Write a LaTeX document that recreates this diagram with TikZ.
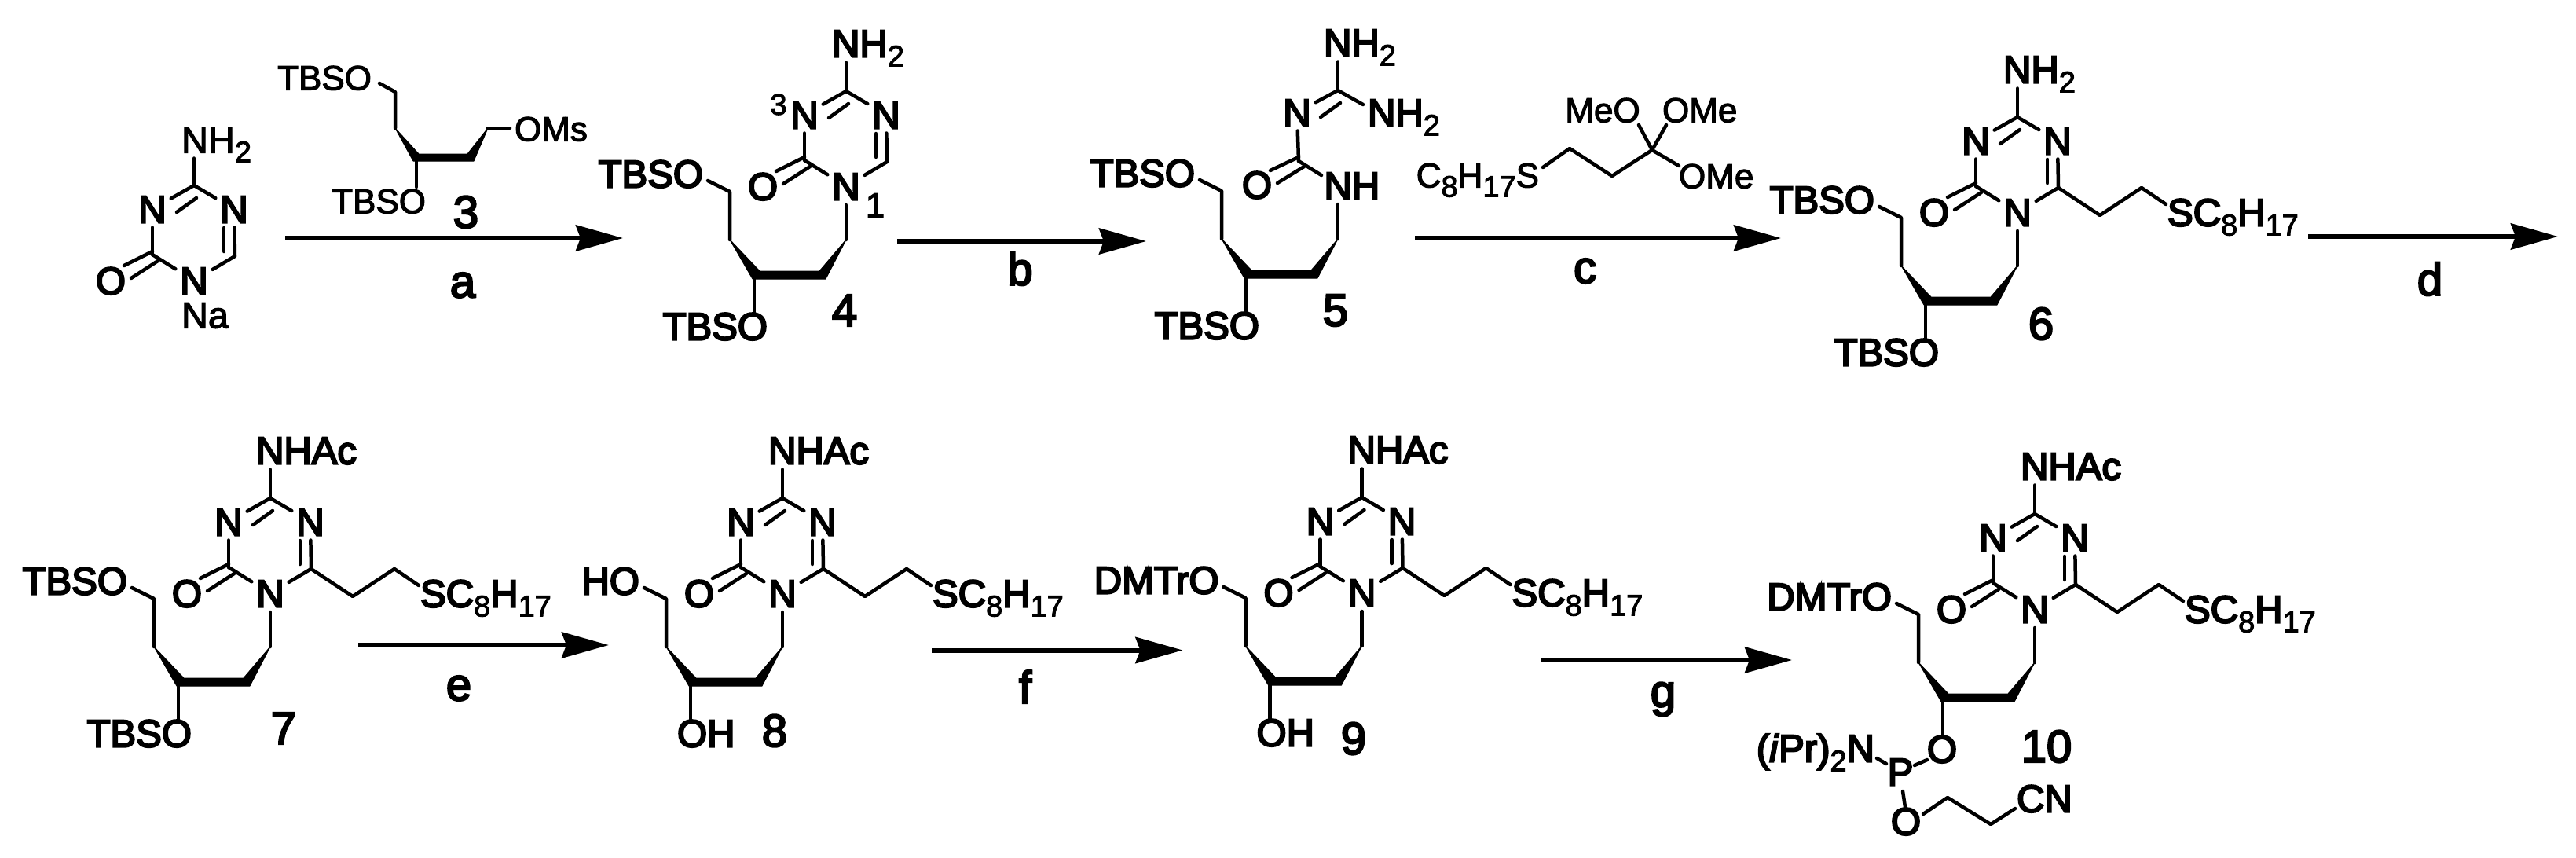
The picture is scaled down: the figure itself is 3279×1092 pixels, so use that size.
\documentclass[tikz,border=0pt]{standalone}
\usepackage{fontspec}
\usetikzlibrary{arrows.meta,calc}
\setmainfont{Liberation Sans}
\newfontfamily\bfam[FakeBold=4.5]{Liberation Sans}
\newfontfamily\rfam[FakeBold=2.5]{Liberation Sans}
\newfontfamily\tfam[FakeBold=4]{Liberation Sans}
\newcommand{\lowidx}[1]{\raisebox{-12pt}{\rfam\fontsize{38}{38}\selectfont #1}}
\tikzset{
  x=1pt,y=-1pt,
  bond/.style={line width=4.5pt,line cap=round,line join=round},
  wedgefill/.style={fill=black,draw=black,line width=1pt,line join=round},
  atom/.style={font=\bfam\fontsize{49}{49}\selectfont,inner sep=6pt,outer sep=0pt,text height=35pt,text depth=0pt},
  chemtext/.style={font=\bfam\fontsize{49}{49}\selectfont,inner sep=0pt,outer sep=0pt,text height=35pt,text depth=0pt},
  thintext/.style={font=\rfam\fontsize{44}{44}\selectfont,inner sep=0pt,outer sep=0pt,text height=33pt,text depth=0pt},
  tag/.style={font=\tfam\fontsize{58}{58}\selectfont,inner sep=0pt,outer sep=0pt},
  rxn/.style={line width=6pt,-{Stealth[length=60pt,width=33pt,inset=6pt]}},
}
% upper half of the ring: C4, N3, C2, O
\newcommand{\ringhead}[1]{%
  \coordinate (#1Ct) at (0,-121);
  \coordinate (#1Cl) at (-53,-33);
  \node[atom] (#1Nl) at (-53,-91) {N};
  \node[chemtext] (#1O) at (-106,0) {O};
  \draw[bond] (#1Ct) -- (#1Nl);
  \coordinate (#1d1) at (3,-105); \coordinate (#1d2) at (-22,-87);
  \draw[bond] (#1d1) -- (#1d2);
  \draw[bond] (#1Nl) -- (#1Cl);
  \coordinate (#1o1) at (-53,-37); \coordinate (#1o2) at (-89,-19);
  \coordinate (#1o3) at (-46,-25); \coordinate (#1o4) at (-80,-3);
  \draw[bond] (#1o1) -- (#1o2);
  \draw[bond] (#1o3) -- (#1o4);
}
% lower right of the ring: N1, C6, N5
\newcommand{\ringtail}[1]{%
  \coordinate (#1Cr) at (52,-31);
  \node[atom] (#1Nb) at (0,0) {N};
  \node[atom] (#1Nr) at (51,-91) {N};
  \draw[bond] (#1Ct) -- (#1Nr);
  \draw[bond] (#1Cl) -- (#1Nb);
  \draw[bond] (#1Nb) -- (#1Cr);
  \draw[bond] (#1Cr) -- (#1Nr);
  \coordinate (#1r1) at (38,-37); \coordinate (#1r2) at (38,-67);
  \draw[bond] (#1r1) -- (#1r2);
}
\newcommand{\topsub}[2]{%
  \node[chemtext,anchor=west] (#1Top) at (-18,-182) {#2};
  \draw[bond] (#1Ct) -- ([yshift=-7pt]#1Top.south -| #1Ct);
}
\newcommand{\sidechain}[1]{%
  \coordinate (#1s1) at (105,4); \coordinate (#1s2) at (158,-31); \coordinate (#1s3) at (189,-10);
  \node[chemtext,anchor=west] (#1S) at (191,0) {SC\lowidx{8}H\lowidx{17}};
  \draw[bond] (#1Cr) -- (#1s1) -- (#1s2) -- (#1s3);
}
% #2 top-left label, #3 anchor, #4 x of bottom label, #5 bottom label
\newcommand{\lowchain}[5]{%
  \coordinate (#1l0) at (0,24); \coordinate (#1l1) at (0,68);
  \coordinate (#1l2) at (-34,108); \coordinate (#1l3) at (-26,118);
  \coordinate (#1l4) at (-119,118); \coordinate (#1l5) at (-110,108);
  \coordinate (#1l6) at (-148,68); \coordinate (#1l7) at (-148,7); \coordinate (#1l8) at (-176,-7);
  \coordinate (#1st) at (-117,116);
  \fill[wedgefill] (#1l6) -- (#1l5) -- (#1l2) -- (#1l1) -- (#1l3) -- (#1l4) -- cycle;
  \draw[bond] (#1l1) -- (#1l0);
  \draw[bond] (#1l6) -- (#1l7) -- (#1l8);
  \node[chemtext,anchor=east] (#1TL) at (-182,-16) {#2};
  \node[chemtext,#3] (#1BL) at (#4,178) {#5};
  \draw[bond] (#1st) -- (#1st |- #1BL.north);
}
\begin{document}
\begin{tikzpicture}
\useasboundingbox (0,0) rectangle (3279,1092);
% starting material
\begin{scope}[shift={(247,357)}]
  \ringhead{A}
  \ringtail{A}
  \node[thintext,text height=35pt,font=\rfam\fontsize{47}{47}\selectfont,anchor=west] (ATop) at (-16,-180) {NH\lowidx{2}};
  \draw[bond] (ACt) -- ([yshift=-7pt]ATop.south -| ACt);
  \node[thintext,text height=35pt,font=\rfam\fontsize{47}{47}\selectfont,anchor=west] (ANa) at (-16,43) {Na};
\end{scope}
% reagent 3
\node[thintext,anchor=east] (R3a) at (473,98) {TBSO};
\node[thintext,anchor=east] (R3b) at (542,255) {TBSO};
\node[thintext,anchor=west] (R3c) at (655,163) {OMs};
\coordinate (R1) at (483,106); \coordinate (R2) at (503,117); \coordinate (R3) at (503,163);
\coordinate (R4) at (533,196); \coordinate (R5) at (595,196); \coordinate (R6) at (621,163);
\coordinate (R7) at (603,205); \coordinate (R8) at (526,205); \coordinate (R9) at (649,163);
\coordinate (R10) at (530,203); \coordinate (R11) at (530,238);
\fill[wedgefill] (R3) -- (R4) -- (R5) -- (R6) -- (R7) -- (R8) -- cycle;
\draw[bond] (R1) -- (R2) -- (R3);
\draw[bond] (R6) -- (R9);
\draw[bond] (R10) -- (R11);
\node[tag] (L3) at (593,270) {3};
% compound 4
\begin{scope}[shift={(1077,237)}]
  \ringhead{B}
  \ringtail{B}
  \topsub{B}{NH\lowidx{2}}
  \lowchain{B}{TBSO}{anchor=east}{-100}{TBSO}
  \node[thintext,font=\rfam\fontsize{38}{38}\selectfont,text height=28pt] (B3) at (-86,-105) {3};
  \node[thintext] (B1) at (37,23) {1};
\end{scope}
\node[tag] (L4) at (1075,395) {4};
% compound 5
\begin{scope}[shift={(1703,236)}]
  \coordinate (CCt) at (0,-121);
  \coordinate (CCl) at (-50,-31);
  \node[atom] (CNl) at (-52,-93) {N};
  \node[chemtext] (CO) at (-103,-1) {O};
  \node[atom,anchor=west] (CNb) at (-23.5,0) {NH};
  \node[chemtext,anchor=west] (CNr) at (38,-93) {NH\lowidx{2}};
  \draw[bond] (CCt) -- (CNl);
  \coordinate (Cd1) at (3,-105); \coordinate (Cd2) at (-22,-87);
  \draw[bond] (Cd1) -- (Cd2);
  \draw[bond] (CNl) -- (CCl);
  \coordinate (Co1) at (-50,-36); \coordinate (Co2) at (-86,-19);
  \coordinate (Co3) at (-43,-24); \coordinate (Co4) at (-77,-3);
  \draw[bond] (Co1) -- (Co2);
  \draw[bond] (Co3) -- (Co4);
  \coordinate (Cb1) at (-21,-13);
  \draw[bond] (CCl) -- (Cb1);
  \coordinate (Cb2) at (32,-103);
  \draw[bond] (CCt) -- (Cb2);
  \topsub{C}{NH\lowidx{2}}
  \lowchain{C}{TBSO}{anchor=east}{-100}{TBSO}
\end{scope}
\node[tag] (L5) at (1700,395) {5};
% reagent c
\node[thintext,anchor=east] (Ra) at (1959,222) {C\lowidx{8}H\lowidx{17}S};
\node[thintext,anchor=center] (Rb) at (2040,139) {MeO};
\node[thintext,anchor=west] (Rc) at (2116,139) {OMe};
\node[thintext,anchor=west] (Rd) at (2137,223) {OMe};
\coordinate (Q1) at (1964,213); \coordinate (Q2) at (1998,189); \coordinate (Q3) at (2052,224);
\coordinate (Q4) at (2103,191); \coordinate (Q5) at (2086,159); \coordinate (Q6) at (2121,159);
\coordinate (Q7) at (2137,211);
\draw[bond] (Q1) -- (Q2) -- (Q3) -- (Q4) -- (Q5);
\draw[bond] (Q4) -- (Q6);
\draw[bond] (Q4) -- (Q7);
% compound 6
\begin{scope}[shift={(2568,270)}]
  \ringhead{D}
  \ringtail{D}
  \topsub{D}{NH\lowidx{2}}
  \sidechain{D}
  \lowchain{D}{TBSO}{anchor=east}{-100}{TBSO}
\end{scope}
\node[tag] (L6) at (2598,412) {6};
% compound 7
\begin{scope}[shift={(344,755)}]
  \ringhead{E}
  \ringtail{E}
  \topsub{E}{NHAc}
  \sidechain{E}
  \lowchain{E}{TBSO}{anchor=east}{-100}{TBSO}
\end{scope}
\node[tag] (L7) at (361,927) {7};
% compound 8
\begin{scope}[shift={(996,755)}]
  \ringhead{F}
  \ringtail{F}
  \topsub{F}{NHAc}
  \sidechain{F}
  \lowchain{F}{HO}{anchor=west}{-134}{OH}
\end{scope}
\node[tag] (L8) at (986,930) {8};
% compound 9
\begin{scope}[shift={(1733.5,754)}]
  \ringhead{G}
  \ringtail{G}
  \topsub{G}{NHAc}
  \sidechain{G}
  \lowchain{G}{DMTrO}{anchor=west}{-134}{OH}
\end{scope}
\node[tag] (L9) at (1723,940) {9};
% compound 10
\begin{scope}[shift={(2590,775)}]
  \ringhead{H}
  \ringtail{H}
  \topsub{H}{NHAc}
  \sidechain{H}
  \lowchain{H}{DMTrO}{anchor=center}{-118}{O}
\end{scope}
\node[tag] (L10) at (2605,950) {10};
\node[chemtext,anchor=east] (PN) at (2386,952) {(\textit{i}Pr)\lowidx{2}N};
\node[chemtext] (PP) at (2419,982) {P};
\node[chemtext] (PO) at (2426,1045) {O};
\node[chemtext,anchor=west] (PC) at (2567,1016) {CN};
\coordinate (P1) at (2389,965); \coordinate (P2) at (2401,972);
\coordinate (P3) at (2437,974); \coordinate (P4) at (2453,967);
\coordinate (P5) at (2422,1007); \coordinate (P6) at (2425,1027);
\coordinate (P7) at (2448,1036); \coordinate (P8) at (2479,1015);
\coordinate (P9) at (2534,1049); \coordinate (P10) at (2565,1029);
\draw[bond] (P1) -- (P2);
\draw[bond] (P3) -- (P4);
\draw[bond] (P5) -- (P6);
\draw[bond] (P7) -- (P8) -- (P9) -- (P10);
% arrows
\coordinate (a1) at (363,303); \coordinate (a2) at (793,303);
\coordinate (b1) at (1142,307); \coordinate (b2) at (1459,307);
\coordinate (c1) at (1801,303); \coordinate (c2) at (2267,303);
\coordinate (d1) at (2938,301); \coordinate (d2) at (3256,301);
\coordinate (e1) at (456,821); \coordinate (e2) at (775,821);
\coordinate (f1) at (1186,827.5); \coordinate (f2) at (1505.5,827.5);
\coordinate (g1) at (1961.5,840); \coordinate (g2) at (2281,840);
\draw[rxn] (a1) -- (a2);
\draw[rxn] (b1) -- (b2);
\draw[rxn] (c1) -- (c2);
\draw[rxn] (d1) -- (d2);
\draw[rxn] (e1) -- (e2);
\draw[rxn] (f1) -- (f2);
\draw[rxn] (g1) -- (g2);
\node[tag] (la) at (589,363) {a};
\node[tag] (lb) at (1298.5,342) {b};
\node[tag] (lc) at (2017.6,345) {c};
\node[tag] (ld) at (3093,355) {d};
\node[tag] (le) at (584,876) {e};
\node[tag] (lf) at (1305,874) {f};
\node[tag] (lg) at (2117,890) {g};
\end{tikzpicture}
\end{document}
